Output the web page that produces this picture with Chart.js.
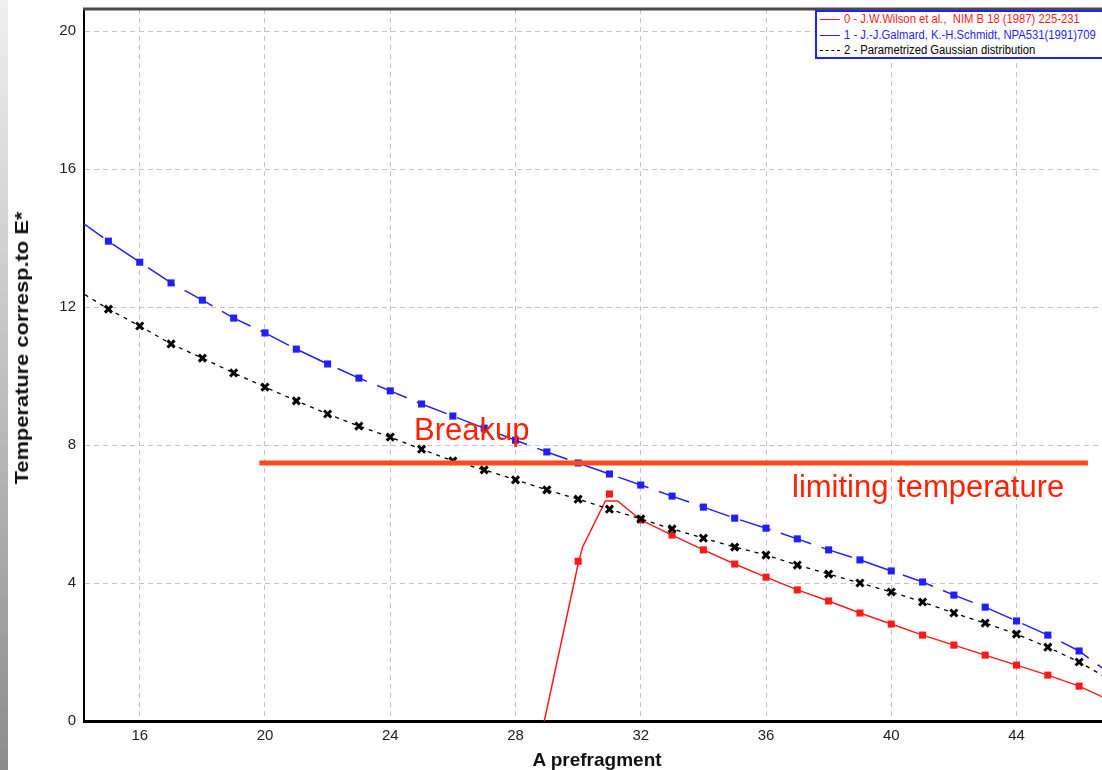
<!DOCTYPE html>
<html>
<head>
<meta charset="utf-8">
<script src="https://cdn.jsdelivr.net/npm/chart.js@4/dist/chart.umd.min.js"></script>
<style>
  html, body { margin: 0; padding: 0; background: #fff; }
  #wrap { position: relative; width: 1102px; height: 770px; overflow: hidden; background: #fff; }
  #strip { position: absolute; left: 0; top: 0; width: 8px; height: 770px;
           background: linear-gradient(#efefef, #c4c4c4 45%, #8c8c8c); }
  canvas { position: absolute; left: 0; top: 0; }
  .ovl { position: absolute; white-space: nowrap; }
  #ytitle { left: 22px; top: 348px; transform: translate(-50%, -50%) rotate(-90deg) scaleX(1.15);
            font: bold 19px "Liberation Sans", Arial, sans-serif; color: #111; }
  #xtitle { left: 597px; top: 760px; transform: translate(-50%, -50%);
            font: bold 19px "Liberation Sans", Arial, sans-serif; color: #111; }
  .note { font: 31px "Liberation Sans", Arial, sans-serif; color: #ff2200; }
  #legend { position: absolute; left: 815px; top: 10px; width: 300px; height: 45px;
            border: 2px solid #1f1fff; background: #fff; }
  .lrow { position: absolute; left: 3px; height: 15px; white-space: nowrap;
          font: 12.5px "Liberation Sans", Arial, sans-serif; line-height: 15px; }
  .lrow span.s { display: inline-block; width: 20px; height: 0; vertical-align: middle; margin-right: 4px; }
  .lrow span.t { display: inline-block; transform: scaleX(0.9); transform-origin: 0 50%; }
</style>
</head>
<body>
<div id="wrap">
  <div id="strip"></div>
  <canvas id="c" width="1102" height="770"></canvas>
  <div id="ytitle" class="ovl">Temperature corresp.to E*</div>
  <div id="xtitle" class="ovl">A prefragment</div>
  <div class="ovl note" style="left:414px; top:412px;">Breakup</div>
  <div class="ovl note" style="left:792px; top:469px;">limiting temperature</div>
  <div id="legend">
    <div class="lrow" style="top:0px; color:#ff1a1a;"><span class="s" style="border-top:1.5px solid #ff1a1a;"></span><span class="t">0 - J.W.Wilson et al.,&nbsp; NIM B 18 (1987) 225-231</span></div>
    <div class="lrow" style="top:16px; color:#1f1fff;"><span class="s" style="border-top:1.5px solid #1f1fff;"></span><span class="t">1 - J.-J.Galmard, K.-H.Schmidt, NPA531(1991)709</span></div>
    <div class="lrow" style="top:31px; color:#000;"><span class="s" style="border-top:1.5px dashed #000;"></span><span class="t">2 - Parametrized Gaussian distribution</span></div>
  </div>
</div>
<script>
// ---- data ----
const markA = [15,16,17,18,19,20,21,22,23,24,25,26,27,28,29,30,31,32,33,34,35,36,37,38,39,40,41,42,43,44,45,46];
const galmardT = [13.91,13.30,12.70,12.20,11.68,11.25,10.78,10.35,9.94,9.57,9.19,8.84,8.49,8.14,7.80,7.48,7.16,6.84,6.52,6.20,5.88,5.59,5.28,4.96,4.67,4.35,4.03,3.65,3.30,2.90,2.49,2.03];
const gaussT = [11.94,11.45,10.93,10.52,10.09,9.68,9.28,8.90,8.55,8.23,7.88,7.54,7.28,6.99,6.70,6.43,6.14,5.86,5.57,5.30,5.04,4.81,4.52,4.26,4.00,3.74,3.45,3.13,2.84,2.52,2.14,1.71];
const edgeA = [14, 47];            // line continues past the plotted range
const galmardEdgeT = [14.55, 1.36];
const gaussEdgeT = [12.50, 1.19];
const wilsonMarkA = [30,31,32,33,34,35,36,37,38,39,40,41,42,43,44,45,46];
const wilsonMarkT = [4.63,6.58,5.83,5.39,4.96,4.55,4.17,3.80,3.48,3.13,2.81,2.49,2.20,1.91,1.62,1.33,1.01];
const wilsonLineA = [28.92,30,30.14,30.87,31.26,32,33,34,35,36,37,38,39,40,41,42,43,44,45,46,47];
const wilsonLineT = [0,4.55,5.04,6.38,6.38,5.83,5.39,4.96,4.55,4.17,3.80,3.48,3.13,2.81,2.49,2.20,1.91,1.62,1.33,1.01,0.59];
const limitA = [19.82, 46.28];
const limitT = [7.48, 7.48];
const xTicks = [16,20,24,28,32,36,40,44];
const yTicks = [0,4,8,12,16,20];
const xRange = [14.22, 46.73];
const yRange = [0, 20.64];

const pts = (xs, ys) => xs.map((x, i) => ({x, y: ys[i]}));
const withEdges = (edgeY, vals) => [{x: edgeA[0], y: edgeY[0]}, ...pts(markA, vals), {x: edgeA[1], y: edgeY[1]}];
const markerOnly = ctx => (ctx.raw && Number.isInteger(ctx.raw.x) && ctx.raw.x >= 15 && ctx.raw.x <= 46) ? 5 : 0;

const frame = {
  id: 'frame',
  afterDraw(chart) {
    const {ctx, chartArea: a} = chart;
    ctx.save();
    ctx.strokeStyle = '#4a4a4a';
    ctx.lineWidth = 3;
    ctx.beginPath(); ctx.moveTo(a.left - 1, a.top); ctx.lineTo(chart.width, a.top); ctx.stroke();
    ctx.restore();
  }
};

const noPad = s => { s.paddingLeft = 0; s.paddingRight = 0; s.paddingTop = 0; s.paddingBottom = 0; };

new Chart(document.getElementById('c'), {
  type: 'line',
  data: {
    datasets: [
      { label: 'limit', data: pts(limitA, limitT), borderColor: '#ff4a1a', borderWidth: 5,
        pointRadius: 0, order: 0, borderCapStyle: 'butt' },
      { label: '2 - Parametrized Gaussian distribution', data: withEdges(gaussEdgeT, gaussT),
        borderColor: '#000', borderWidth: 1.3, borderDash: [4, 5], pointStyle: 'crossRot',
        pointRadius: markerOnly, pointBorderWidth: 3, pointBorderColor: '#000', pointBackgroundColor: '#000', order: 1 },
      { label: '1 - J.-J.Galmard, K.-H.Schmidt, NPA531(1991)709', data: withEdges(galmardEdgeT, galmardT),
        borderColor: '#1f1fff', borderWidth: 1.5, borderDash: [32, 11], pointStyle: 'rect',
        pointRadius: markerOnly, pointBorderWidth: 0, pointBackgroundColor: '#1f1fff', order: 2 },
      { label: '0 - J.W.Wilson et al.', data: pts(wilsonLineA, wilsonLineT),
        borderColor: '#ff1a1a', borderWidth: 1.5, pointRadius: 0, order: 3 },
      { label: 'wilson markers', data: pts(wilsonMarkA, wilsonMarkT), showLine: false,
        pointStyle: 'rect', pointRadius: 5, pointBorderWidth: 0, pointBackgroundColor: '#ff1a1a', order: 3 }
    ]
  },
  options: {
    responsive: false,
    animation: false,
    parsing: false,
    layout: { autoPadding: false, padding: { top: 9, left: 0, right: 0, bottom: 0 } },
    plugins: { legend: { display: false }, tooltip: { enabled: false } },
    elements: { line: { tension: 0 } },
    scales: {
      x: {
        type: 'linear', min: xRange[0], max: xRange[1],
        afterBuildTicks: s => { s.ticks = xTicks.map(v => ({value: v})); },
        afterFit: s => { s.height = 49; noPad(s); },
        ticks: { color: '#222', padding: 6, maxRotation: 0,
                 font: { family: '"Liberation Sans", Arial', size: 15 } },
        grid: { color: '#c4c4c4', lineWidth: 1, drawTicks: false },
        border: { display: true, color: '#000', width: 3, dash: [5, 4] }
      },
      y: {
        type: 'linear', min: yRange[0], max: yRange[1],
        afterBuildTicks: s => { s.ticks = yTicks.map(v => ({value: v})); },
        afterFit: s => { s.width = 84; noPad(s); },
        ticks: { color: '#222', padding: 8,
                 font: { family: '"Liberation Sans", Arial', size: 15 } },
        grid: { color: '#c4c4c4', lineWidth: 1, drawTicks: false },
        border: { display: true, color: '#000', width: 2, dash: [5, 4] }
      }
    }
  },
  plugins: [frame]
});
</script>
</body>
</html>
